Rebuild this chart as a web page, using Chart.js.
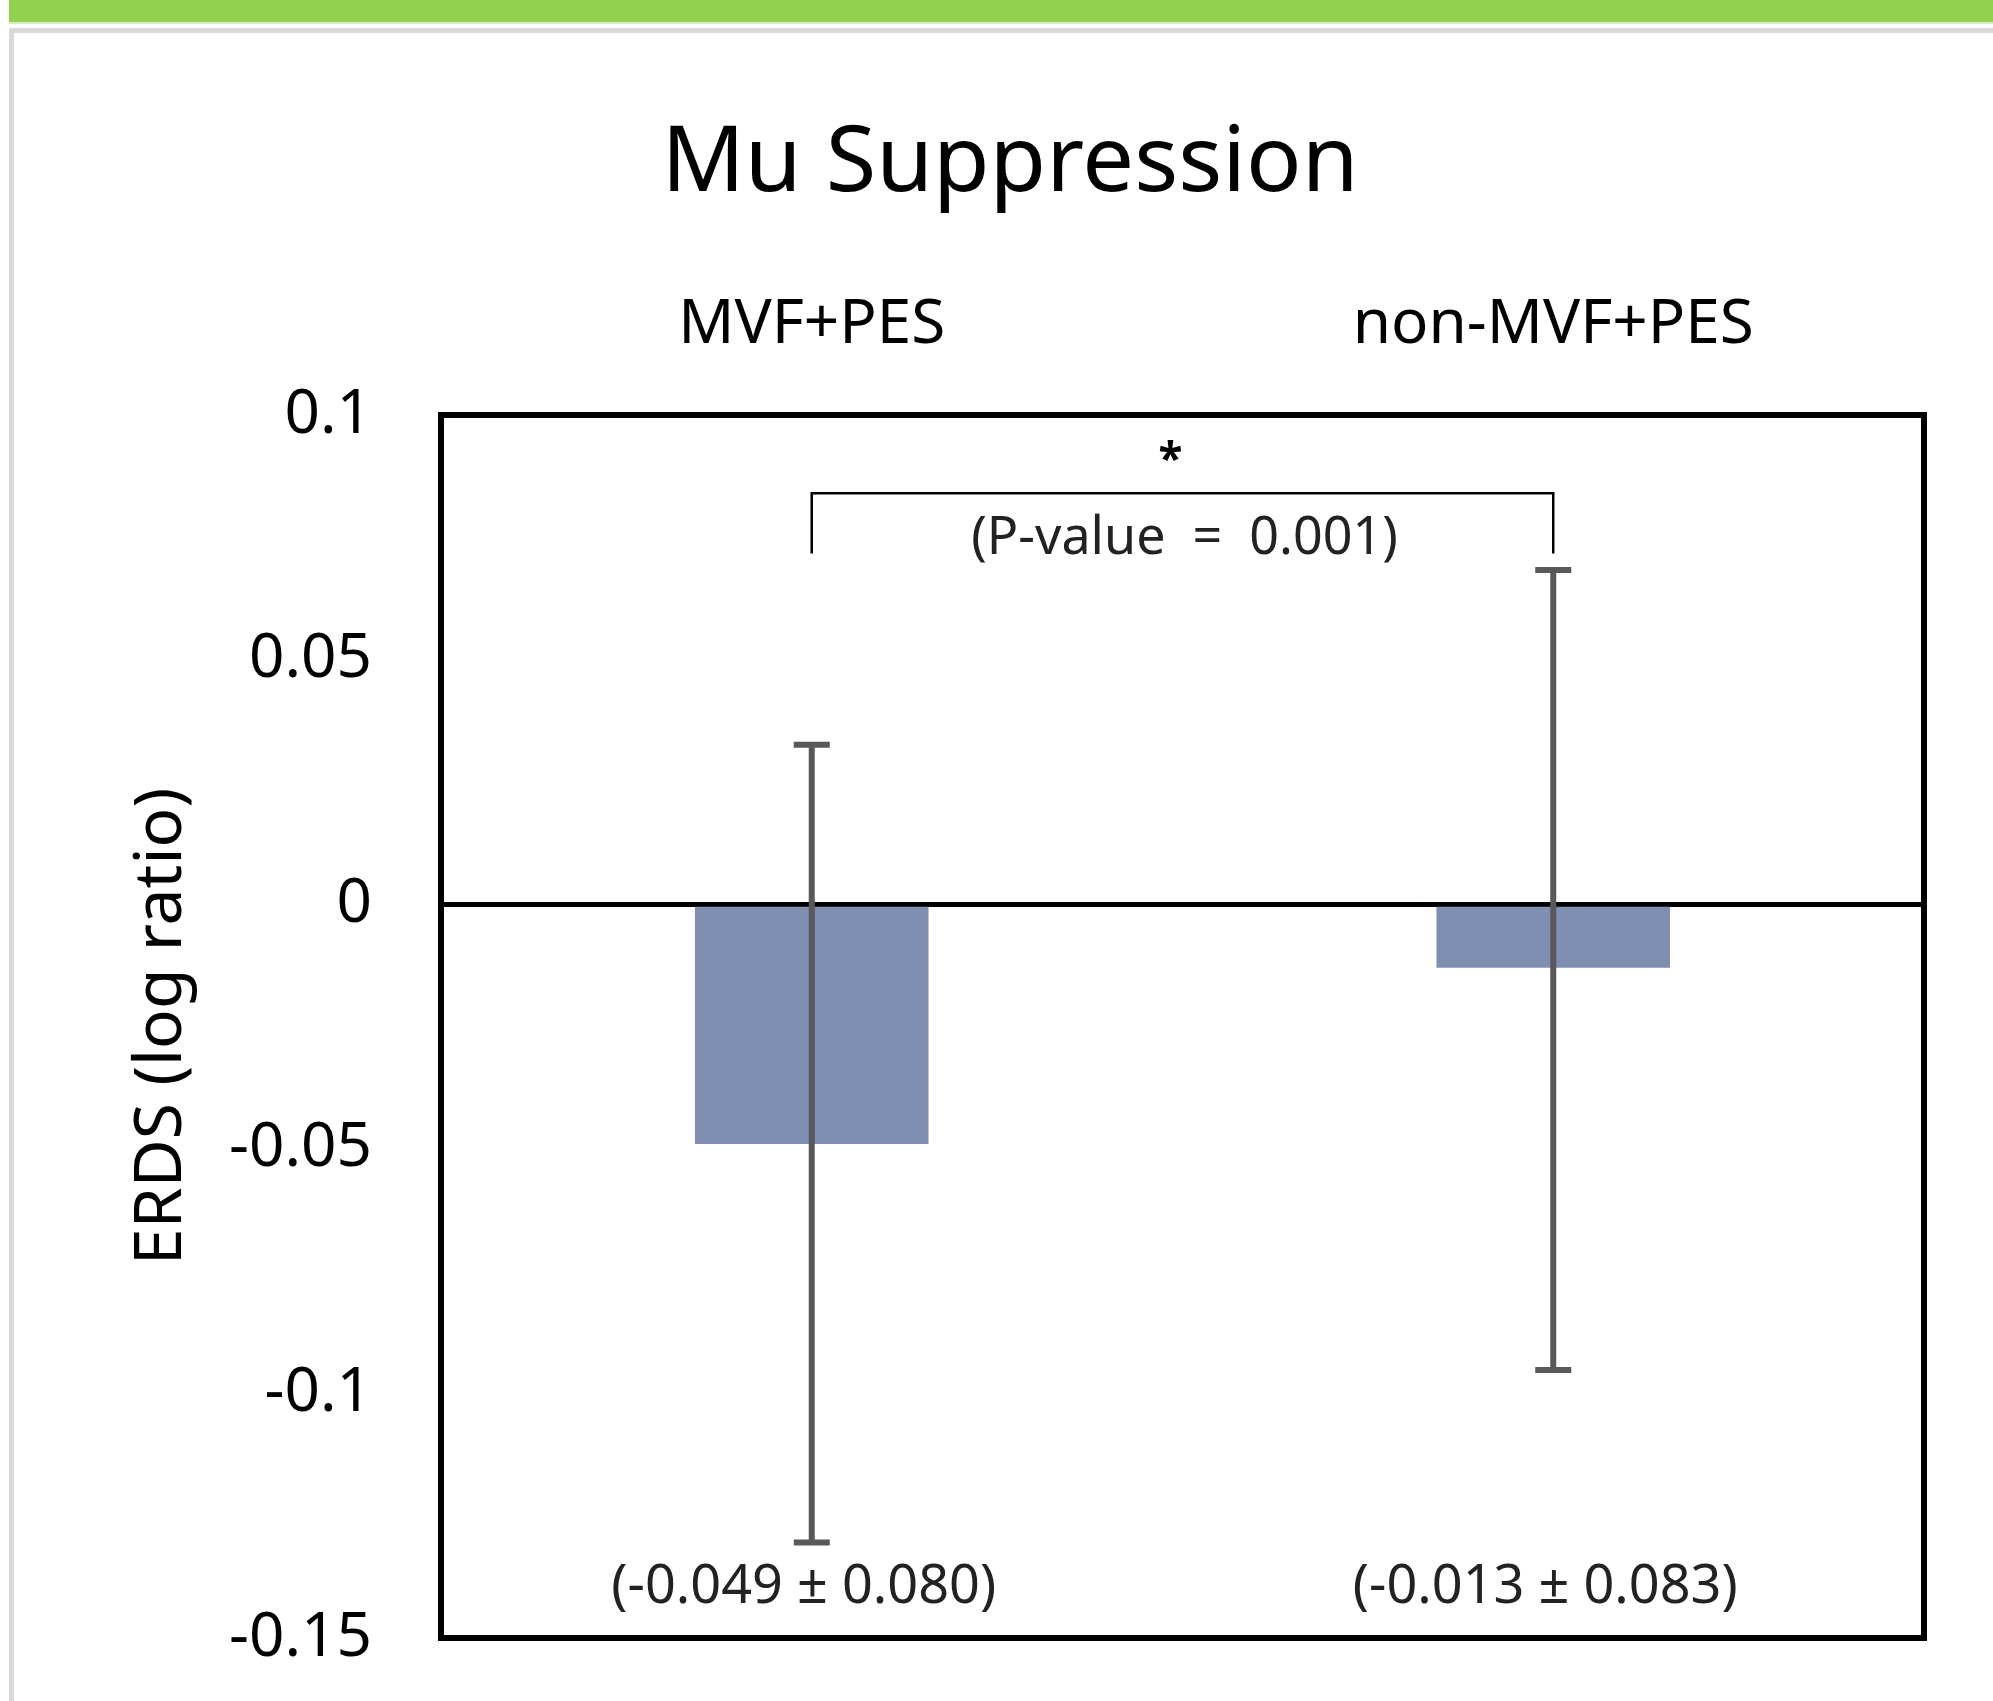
<!DOCTYPE html>
<html>
<head>
<meta charset="utf-8">
<script src="https://cdn.jsdelivr.net/npm/chart.js@4.4.1/dist/chart.umd.min.js"></script>
<style>
  html, body { margin: 0; padding: 0; background: #fff; }
  #wrap { width: 1993px; height: 1701px; }
</style>
</head>
<body>
<div id="wrap"><canvas class="js-chart"></canvas></div>
<script>
const ctx = document.querySelector(".js-chart").getContext("2d");

const categories = ["MVF+PES", "non-MVF+PES"];
const means = [-0.049, -0.013];
const errHigh = [0.0326, 0.0683];
const errLow = [-0.1305, -0.0952];
const summaryLabels = ["(-0.049 \u00b1 0.080)", "(-0.013 \u00b1 0.083)"];
const pValueLabel = "(P-value  =  0.001)";
const yTicks = [0.1, 0.05, 0, -0.05, -0.1, -0.15];
const yTickLabels = ["0.1", "0.05", "0", "-0.05", "-0.1", "-0.15"];

const FONT = "'Noto Sans', 'Open Sans', sans-serif";

// page frame behind the chart (green strip + grey border)
const pageFrame = {
  id: "pageFrame",
  beforeDraw(chart) {
    const c = chart.ctx;
    c.save();
    c.fillStyle = "#ffffff";
    c.fillRect(0, 0, chart.width, chart.height);
    c.fillStyle = "#92D050";
    c.fillRect(9, 0, chart.width, 22);
    c.fillStyle = "#D6EDBF";
    c.fillRect(9, 22, chart.width, 2);
    c.fillStyle = "#D9D9D9";
    c.fillRect(9, 28, chart.width, 5);
    c.fillRect(9, 28, 5, chart.height);
    c.restore();
  },
};

// error bars, bracket, texts and the plot box
const extras = {
  id: "extras",
  afterDatasetsDraw(chart) {
    const c = chart.ctx;
    const x = chart.scales.x;
    const y = chart.scales.y;
    const area = chart.chartArea;
    c.save();

    // error bars
    c.strokeStyle = "#595959";
    c.lineWidth = 6;
    means.forEach((m, i) => {
      const px = x.getPixelForValue(i);
      const top = y.getPixelForValue(errHigh[i]);
      const bot = y.getPixelForValue(errLow[i]);
      c.beginPath();
      c.moveTo(px, top);
      c.lineTo(px, bot);
      c.moveTo(px - 18, top);
      c.lineTo(px + 18, top);
      c.moveTo(px - 18, bot);
      c.lineTo(px + 18, bot);
      c.stroke();
    });

    // significance bracket
    const x0 = x.getPixelForValue(0);
    const x1 = x.getPixelForValue(1);
    const by = y.getPixelForValue(0.084);
    const bEnd = y.getPixelForValue(0.0717);
    c.strokeStyle = "#000";
    c.lineWidth = 2.5;
    c.beginPath();
    c.moveTo(x0, bEnd);
    c.lineTo(x0, by);
    c.lineTo(x1, by);
    c.lineTo(x1, bEnd);
    c.stroke();

    c.fillStyle = "#000";
    c.textAlign = "center";
    c.textBaseline = "middle";
    c.font = "bold 44px " + FONT;
    c.fillText("*", (x0 + x1) / 2 - 12, y.getPixelForValue(0.0905));

    c.fillStyle = "#222";
    c.font = "52px " + FONT;
    c.fillText(pValueLabel, (x0 + x1) / 2 + 2, y.getPixelForValue(0.0746));

    c.font = "54px " + FONT;
    summaryLabels.forEach((t, i) => {
      c.fillText(t, x.getPixelForValue(i) - 8, y.getPixelForValue(-0.1398));
    });

    // plot box
    c.strokeStyle = "#000";
    c.lineWidth = 6;
    c.strokeRect(area.left, area.top, area.right - area.left, area.bottom - area.top);
    c.restore();
  },
};

new Chart(ctx, {
  type: "bar",
  data: {
    labels: categories,
    datasets: [
      {
        data: means,
        backgroundColor: "#7F8FB1",
        borderWidth: 0,
        barPercentage: 0.315,
        categoryPercentage: 1,
      },
    ],
  },
  options: {
    responsive: true,
    maintainAspectRatio: false,
    animation: false,
    layout: { padding: { left: 96, right: 69, top: 0, bottom: 63 } },
    plugins: {
      legend: { display: false },
      tooltip: { enabled: false },
      title: {
        display: true,
        text: "Mu Suppression",
        color: "#000",
        font: { family: FONT, size: 92, weight: "normal", lineHeight: 1.2 },
        padding: { top: 110, bottom: 0 },
      },
    },
    scales: {
      x: {
        position: "top",
        grid: { display: false, drawTicks: false },
        border: { display: false },
        ticks: {
          color: "#000",
          padding: 52,
          font: { family: FONT, size: 62 },
        },
        afterFit(scale) {
          scale.height = 194.6;
        },
      },
      y: {
        min: -0.15,
        max: 0.1,
        afterBuildTicks(scale) {
          scale.ticks = yTicks.map((v) => ({ value: v }));
        },
        grid: {
          drawTicks: false,
          lineWidth: 5,
          color(c) {
            return c.tick && c.tick.value === 0 ? "#000" : "rgba(0,0,0,0)";
          },
        },
        border: { display: false },
        ticks: {
          color: "#000",
          padding: 69,
          font: { family: FONT, size: 62 },
          callback(value) {
            const i = yTicks.indexOf(value);
            return i >= 0 ? yTickLabels[i] : "";
          },
        },
        title: {
          display: true,
          text: "ERDS (log ratio)",
          color: "#000",
          font: { family: FONT, size: 66 },
          padding: { top: 27, bottom: 0 },
        },
        afterFit(scale) {
          scale.width = 345;
          // keep the tick padding from pushing the plot area up
          scale.paddingTop = 0;
          scale.paddingBottom = 0;
        },
      },
    },
  },
  plugins: [pageFrame, extras],
});
</script>
</body>
</html>
